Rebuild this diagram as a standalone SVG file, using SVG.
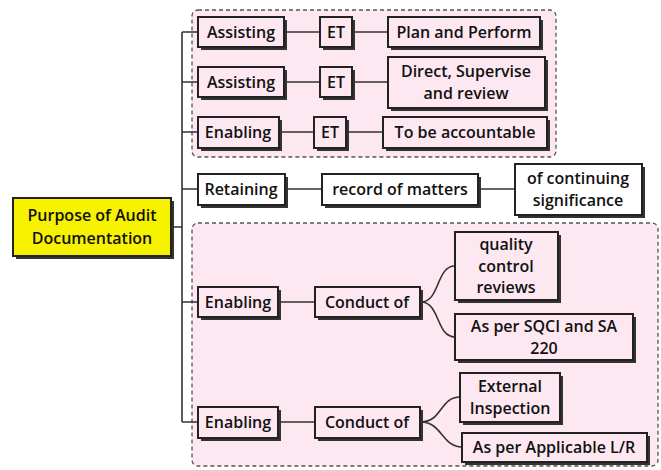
<svg xmlns="http://www.w3.org/2000/svg" width="661" height="470" viewBox="0 0 661 470">
<style>
.grp{fill:#fde7f0;stroke:#555;stroke-width:1.3;stroke-dasharray:4 3}
.sh{fill:#333}
.bx{fill:#fde7f0;stroke:#222;stroke-width:2}
.wb{fill:#fff;stroke:#222;stroke-width:2}
.rb{fill:#f7f200;stroke:#222;stroke-width:2}
text{font-family:"Open Sans","Liberation Sans",sans-serif;font-size:16px;font-weight:600;fill:#111;text-anchor:middle;dominant-baseline:central}
.ln{fill:none;stroke:#333;stroke-width:1.6}
</style>
<rect width="661" height="470" fill="#fff"/>
<rect class="grp" x="192" y="10" width="364" height="147" rx="6"/>
<rect class="grp" x="192" y="223" width="466" height="243" rx="6"/>
<g id="connectors">
<path class="ln" d="M172 227H182M182 32V422M182 32H198M182 82H198M182 132H198M182 189H198M182 302H198M182 422H198"/>
<path class="ln" d="M284 32H320M352 32H388M284 82H320M352 82H388M279 132H314M346 132H383M285 189H322M478 189H515M278 302H315M278 422H315"/>
<path class="ln" d="M421 302C440 302 436 266 455 266M421 302C440 302 436 337 455 337M421 422C442 422 440 397 460 397M421 422C442 422 442 447 462 447"/>
</g>
<g id="root"><rect class="sh" x="16" y="201" width="158" height="58"/><rect class="rb" x="13" y="198" width="158" height="58"/><text x="92" y="215">Purpose of Audit</text><text x="92" y="238">Documentation</text></g>
<g id="assisting1"><rect class="sh" x="201" y="20" width="86" height="30"/><rect class="bx" x="198" y="17" width="86" height="30"/><text x="241" y="31.5">Assisting</text></g>
<g id="et1"><rect class="sh" x="323" y="20" width="32" height="30"/><rect class="bx" x="320" y="17" width="32" height="30"/><text x="336" y="31.5">ET</text></g>
<g id="plan"><rect class="sh" x="391" y="20" width="152" height="30"/><rect class="bx" x="388" y="17" width="152" height="30"/><text x="464" y="31.5">Plan and Perform</text></g>
<g id="assisting2"><rect class="sh" x="201" y="70" width="86" height="30"/><rect class="bx" x="198" y="67" width="86" height="30"/><text x="241" y="81.5">Assisting</text></g>
<g id="et2"><rect class="sh" x="323" y="70" width="32" height="30"/><rect class="bx" x="320" y="67" width="32" height="30"/><text x="336" y="81.5">ET</text></g>
<g id="direct"><rect class="sh" x="391" y="60" width="157" height="51"/><rect class="bx" x="388" y="57" width="157" height="51"/><text x="466" y="71">Direct, Supervise</text><text x="466" y="93">and review</text></g>
<g id="enabling1"><rect class="sh" x="201" y="120" width="81" height="31"/><rect class="bx" x="198" y="117" width="81" height="31"/><text x="238" y="131.5">Enabling</text></g>
<g id="et3"><rect class="sh" x="317" y="120" width="32" height="31"/><rect class="bx" x="314" y="117" width="32" height="31"/><text x="330" y="131.5">ET</text></g>
<g id="accountable"><rect class="sh" x="386" y="120" width="164" height="31"/><rect class="bx" x="383" y="117" width="164" height="31"/><text x="465" y="131.5">To be accountable</text></g>
<g id="retaining"><rect class="sh" x="201" y="177" width="87" height="31"/><rect class="wb" x="198" y="174" width="87" height="31"/><text x="241" y="188.5">Retaining</text></g>
<g id="record"><rect class="sh" x="325" y="177" width="156" height="31"/><rect class="wb" x="322" y="174" width="156" height="31"/><text x="400" y="188.5">record of matters</text></g>
<g id="continuing"><rect class="sh" x="518" y="167" width="127" height="51"/><rect class="wb" x="515" y="164" width="127" height="51"/><text x="578" y="178">of continuing</text><text x="578" y="200">significance</text></g>
<g id="enabling2"><rect class="sh" x="201" y="290" width="80" height="30"/><rect class="bx" x="198" y="287" width="80" height="30"/><text x="238" y="301.5">Enabling</text></g>
<g id="conduct1"><rect class="sh" x="318" y="290" width="105" height="30"/><rect class="bx" x="315" y="287" width="105" height="30"/><text x="367" y="301.5">Conduct of</text></g>
<g id="quality"><rect class="sh" x="458" y="235" width="103" height="68"/><rect class="bx" x="455" y="232" width="103" height="68"/><text x="506" y="244">quality</text><text x="506" y="265.5">control</text><text x="506" y="287">reviews</text></g>
<g id="sqc"><rect class="sh" x="458" y="317" width="178" height="46"/><rect class="bx" x="455" y="314" width="178" height="46"/><text x="544" y="326">As per SQCI and SA</text><text x="544" y="348">220</text></g>
<g id="enabling3"><rect class="sh" x="201" y="410" width="80" height="31"/><rect class="bx" x="198" y="407" width="80" height="31"/><text x="238" y="421.5">Enabling</text></g>
<g id="conduct2"><rect class="sh" x="318" y="410" width="105" height="31"/><rect class="bx" x="315" y="407" width="105" height="31"/><text x="367" y="421.5">Conduct of</text></g>
<g id="external"><rect class="sh" x="463" y="376" width="100" height="49"/><rect class="bx" x="460" y="373" width="100" height="49"/><text x="510" y="386">External</text><text x="510" y="408">Inspection</text></g>
<g id="applicable"><rect class="sh" x="465" y="436" width="185" height="29"/><rect class="bx" x="462" y="433" width="185" height="29"/><text x="554" y="446.5">As per Applicable L/R</text></g>
</svg>
